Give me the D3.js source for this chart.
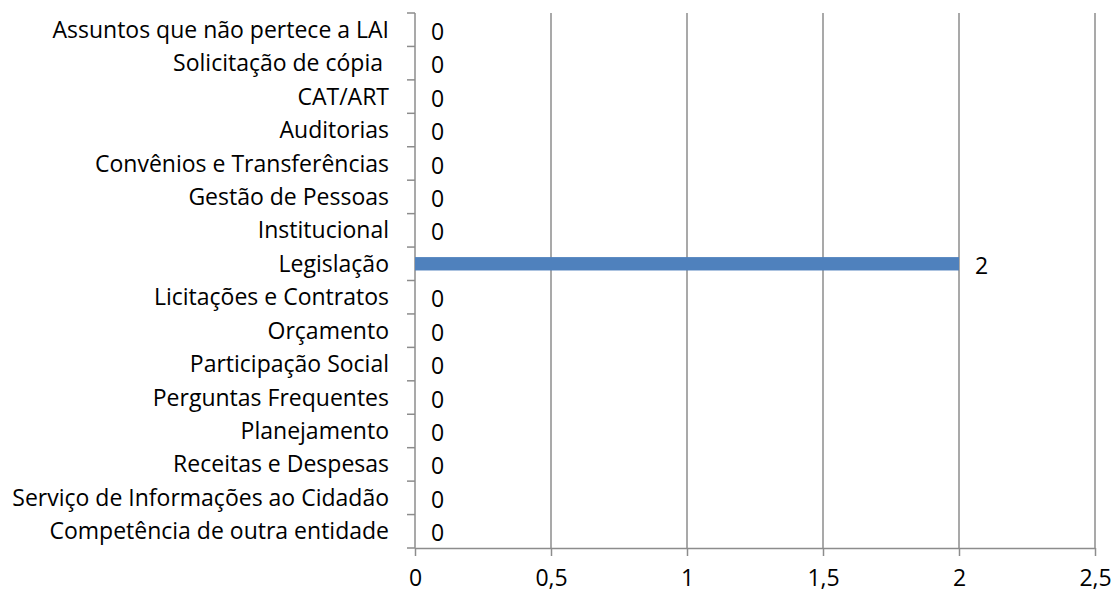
<!DOCTYPE html>
<html>
<head>
<meta charset="utf-8">
<script src="https://cdn.jsdelivr.net/npm/d3@7"></script>
<style>
  body { margin: 0; background: #fff; }
  svg { display: block; }
</style>
</head>
<body>
<div class="area"></div>
<script>
// categories from top to bottom, as in the chart
var categories = ['Assuntos que não pertece a LAI', 'Solicitação de cópia ', 'CAT/ART', 'Auditorias',
  'Convênios e Transferências', 'Gestão de Pessoas', 'Institucional', 'Legislação',
  'Licitações e Contratos', 'Orçamento', 'Participação Social', 'Perguntas Frequentes',
  'Planejamento', 'Receitas e Despesas', 'Serviço de Informações ao Cidadão', 'Competência de outra entidade'];
var values = [0, 0, 0, 0, 0, 0, 0, 2, 0, 0, 0, 0, 0, 0, 0, 0];
var xTicks = [0, 0.5, 1, 1.5, 2, 2.5];

var width = 1114, height = 596;
var plotLeft = 415, plotRight = 1095, plotTop = 13, plotBottom = 548;
var font = '"Open Sans", "Noto Sans", sans-serif';
var fontSize = '23px';
var gridColor = '#8c8c8c';

var svg = d3.select('.area')
    .append('svg')
    .attr('width', width)
    .attr('height', height);

var x = d3.scaleLinear().domain([0, 2.5]).range([plotLeft, plotRight]);
var y = d3.scaleBand().domain(categories).range([plotTop, plotBottom]).paddingInner(0).paddingOuter(0);

// vertical gridlines
svg.append('g')
  .selectAll('line')
  .data(xTicks.slice(1))
  .join('line')
    .attr('x1', function(d) { return x(d); })
    .attr('x2', function(d) { return x(d); })
    .attr('y1', plotTop)
    .attr('y2', plotBottom)
    .style('stroke', gridColor)
    .style('stroke-width', 1.5);

// bottom axis
var fmt = function(d) { return String(d).replace('.', ','); };
var xAxis = svg.append('g')
    .attr('transform', 'translate(0,' + plotBottom + ')')
    .call(d3.axisBottom(x).tickValues(xTicks).tickFormat(fmt).tickSize(8).tickSizeOuter(0).tickPadding(14));
xAxis.select('.domain').style('stroke', gridColor).style('stroke-width', 1.5);
xAxis.selectAll('.tick line').style('stroke', gridColor).style('stroke-width', 1.5);
xAxis.selectAll('text')
    .style('font-size', fontSize)
    .style('font-family', font)
    .attr('fill', '#000');

// left axis: ticks sit on the band edges
var edges = categories.map(function(c) { return y(c); }).concat([plotBottom]);
svg.append('line')
    .attr('x1', plotLeft).attr('x2', plotLeft)
    .attr('y1', plotTop).attr('y2', plotBottom)
    .style('stroke', gridColor)
    .style('stroke-width', 1.5);
svg.append('g')
  .selectAll('line')
  .data(edges)
  .join('line')
    .attr('x1', plotLeft - 8)
    .attr('x2', plotLeft)
    .attr('y1', function(d) { return d; })
    .attr('y2', function(d) { return d; })
    .style('stroke', gridColor)
    .style('stroke-width', 1.5);

// category labels
svg.append('g')
  .selectAll('text')
  .data(categories)
  .join('text')
    .attr('x', plotLeft - 26)
    .attr('y', function(d) { return y(d) + y.bandwidth() / 2; })
    .attr('dy', '0.35em')
    .attr('text-anchor', 'end')
    .style('font-size', fontSize)
    .style('font-family', font)
    .style('white-space', 'pre')
    .attr('fill', '#000')
    .text(function(d) { return d; });

// bars
var barH = y.bandwidth() * 0.4;
svg.append('g')
  .selectAll('rect')
  .data(values)
  .join('rect')
    .attr('x', x(0))
    .attr('y', function(d, i) { return y(categories[i]) + (y.bandwidth() - barH) / 2; })
    .attr('width', function(d) { return x(d) - x(0); })
    .attr('height', barH)
    .attr('fill', '#4f81bd');

// value labels
svg.append('g')
  .selectAll('text')
  .data(values)
  .join('text')
    .attr('x', function(d) { return x(d) + 16; })
    .attr('y', function(d, i) { return y(categories[i]) + y.bandwidth() / 2 + 2; })
    .attr('dy', '0.35em')
    .style('font-size', fontSize)
    .style('font-family', font)
    .attr('fill', '#000')
    .text(function(d) { return d; });
</script>
</body>
</html>
